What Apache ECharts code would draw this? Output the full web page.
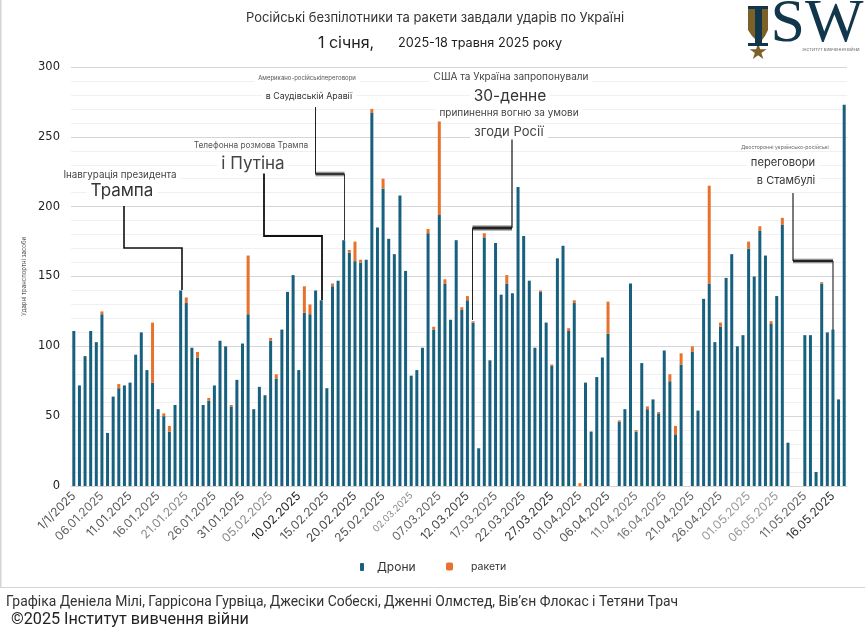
<!DOCTYPE html>
<html lang="uk">
<head>
<meta charset="utf-8">
<title>Російські безпілотники та ракети</title>
<script src="https://cdn.jsdelivr.net/npm/echarts@6/dist/echarts.min.js"></script>
<style>
  html, body { margin: 0; padding: 0; background: #fff; }
  #chart { width: 865px; height: 628px; }
</style>
</head>
<body>
<div id="chart"></div>
<script>
// 1. Дані
const categories = [
  "1/1/2025","02.01.2025","03.01.2025","04.01.2025","05.01.2025","06.01.2025","07.01.2025","08.01.2025","09.01.2025","10.01.2025",
  "11.01.2025","12.01.2025","13.01.2025","14.01.2025","15.01.2025","16.01.2025","17.01.2025","18.01.2025","19.01.2025","20.01.2025",
  "21.01.2025","22.01.2025","23.01.2025","24.01.2025","25.01.2025","26.01.2025","27.01.2025","28.01.2025","29.01.2025","30.01.2025",
  "31.01.2025","01.02.2025","02.02.2025","03.02.2025","04.02.2025","05.02.2025","06.02.2025","07.02.2025","08.02.2025","09.02.2025",
  "10.02.2025","11.02.2025","12.02.2025","13.02.2025","14.02.2025","15.02.2025","16.02.2025","17.02.2025","18.02.2025","19.02.2025",
  "20.02.2025","21.02.2025","22.02.2025","23.02.2025","24.02.2025","25.02.2025","26.02.2025","27.02.2025","28.02.2025","01.03.2025",
  "02.03.2025","03.03.2025","04.03.2025","05.03.2025","06.03.2025","07.03.2025","08.03.2025","09.03.2025","10.03.2025","11.03.2025",
  "12.03.2025","13.03.2025","14.03.2025","15.03.2025","16.03.2025","17.03.2025","18.03.2025","19.03.2025","20.03.2025","21.03.2025",
  "22.03.2025","23.03.2025","24.03.2025","25.03.2025","26.03.2025","27.03.2025","28.03.2025","29.03.2025","30.03.2025","31.03.2025",
  "01.04.2025","02.04.2025","03.04.2025","04.04.2025","05.04.2025","06.04.2025","07.04.2025","08.04.2025","09.04.2025","10.04.2025",
  "11.04.2025","12.04.2025","13.04.2025","14.04.2025","15.04.2025","16.04.2025","17.04.2025","18.04.2025","19.04.2025","20.04.2025",
  "21.04.2025","22.04.2025","23.04.2025","24.04.2025","25.04.2025","26.04.2025","27.04.2025","28.04.2025","29.04.2025","30.04.2025",
  "01.05.2025","02.05.2025","03.05.2025","04.05.2025","05.05.2025","06.05.2025","07.05.2025","08.05.2025","09.05.2025","10.05.2025",
  "11.05.2025","12.05.2025","13.05.2025","14.05.2025","15.05.2025","16.05.2025","17.05.2025","18.05.2025"
];
const drones = [
  111,72,93,111,103,123,38,64,70,72,
  74,94,110,83,74,55,50,39,58,140,
  131,99,92,58,61,72,104,100,57,76,
  102,123,55,71,65,104,77,112,139,151,
  83,124,123,140,133,70,143,147,176,167,
  161,160,162,267,185,213,177,166,208,154,
  79,83,99,181,112,194,145,119,176,126,
  133,117,27,178,90,174,137,145,138,214,
  179,147,99,139,117,86,163,172,111,131,
  0,74,39,78,92,109,0,46,55,145,
  39,88,55,62,52,97,75,37,87,0,
  96,54,134,145,103,114,149,166,100,108,
  170,150,183,165,116,136,187,31,0,0,
  108,108,10,145,110,112,62,273
];
const missiles = [
  0,0,0,0,0,2,0,0,3,0,
  0,0,0,0,43,0,2,4,0,0,
  4,0,4,0,2,0,0,0,1,0,
  0,42,0,0,0,2,3,0,0,0,
  0,19,7,0,0,0,2,0,0,2,
  14,2,0,3,0,7,0,0,0,0,
  0,0,0,3,2,67,3,0,0,2,
  3,1,0,3,0,0,0,6,0,0,
  0,0,0,1,0,1,0,0,2,2,
  2,0,0,0,0,23,0,1,0,0,
  1,0,2,0,1,0,5,6,8,0,
  4,0,0,70,0,3,0,0,0,0,
  5,0,3,0,2,0,5,0,0,0,
  0,0,0,1,0,0,0,0
];

// 2. Кольори
const DRONE_COLOR = "#17617f";
const MISSILE_COLOR = "#e8722c";
const LOGO_DARK = "#12364b";
const LOGO_GOLD = "#7d5f28";
const sansFont = "Inter, 'Noto Sans', sans-serif";
// кольори підписів осі X, по одному на кожен підпис
const tickColors = [
  "#555","#666","#555","#666","#888","#666","#555","#888","#222","#555",
  "#444","#555","#888","#666","#444","#666","#555","#333","#555","#555",
  "#777","#777","#666","#666","#999","#999","#666","#333"
];

// 3. Написи: [текст, центр x, центр y, розмір, колір]
const notes = [
  ["Інавгурація президента", 120, 175, 9.8, "#444"],
  ["Трампа", 122, 191, 17, "#333"],
  ["Телефонна розмова Трампа", 251, 146, 8.3, "#555"],
  ["і Путіна", 253, 164, 17, "#444"],
  ["Американо-російськіпереговори", 307, 78, 6, "#555"],
  ["в Саудівській Аравії", 309, 96, 8.8, "#333"],
  ["США та Україна запропонували", 511, 77, 10, "#444"],
  ["30-денне", 510, 96, 15.5, "#333"],
  ["припинення вогню за умови", 509, 113, 10, "#444"],
  ["згоди Росії", 509, 132, 13, "#444"],
  ["Двосторонні українсько-російські", 785, 147, 5.2, "#666"],
  ["переговори", 783, 163, 11.2, "#333"],
  ["в Стамбулі", 786, 181, 11, "#333"]
];
// Лінії-виноски: [точки, товщина, колір]
const leaders = [
  [[[124, 206], [124, 248], [182, 248], [182, 290]], 1.6, "#111"],
  [[[264, 172], [264, 236], [322, 236], [322, 300]], 1.8, "#111"],
  [[[315.5, 174], [344.5, 174]], 5, "#bbb"],
  [[[315.5, 107], [315.5, 174]], 1, "#222"],
  [[[315.5, 174], [344.5, 174]], 2.5, "#333"],
  [[[344.5, 174], [344.5, 240]], 1, "#333"],
  [[[472.5, 228], [512, 228]], 6, "#bbb"],
  [[[512, 138], [512, 228]], 1.2, "#111"],
  [[[472.5, 228], [512, 228]], 3, "#222"],
  [[[472.5, 228], [472.5, 320]], 1, "#222"],
  [[[793, 261], [833, 261]], 5, "#bbb"],
  [[[793, 193], [793, 261]], 1.2, "#222"],
  [[[793, 261], [833, 261]], 2.5, "#222"],
  [[[833, 261], [833, 330]], 1.2, "#333"]
];

// 4. Графічні елементи
function label(text, x, y, size, color, extra) {
  return {
    type: "text", x: x, y: y, z: 10,
    style: Object.assign({
      text: text, fontSize: size, fill: color, fontFamily: sansFont,
      textAlign: "center", textVerticalAlign: "middle"
    }, extra || {})
  };
}

function noteElements() {
  return notes.map(n => label(n[0], n[1], n[2], n[3], n[4], {
    backgroundColor: "#fff", padding: [1, 4]
  }));
}

function leaderElements() {
  return leaders.map(l => ({
    type: "polyline", z: 9,
    shape: { points: l[0] },
    style: { stroke: l[2], lineWidth: l[1], fill: null }
  }));
}

function logoElements() {
  return [
    { type: "polygon", z: 10, shape: { points: [[748, 9], [756, 9], [756, 40], [752, 36], [748, 30]] }, style: { fill: LOGO_GOLD } },
    { type: "polygon", z: 10, shape: { points: [[762, 9], [768, 9], [768, 30], [765, 36], [762, 40]] }, style: { fill: LOGO_GOLD } },
    { type: "rect", z: 11, shape: { x: 755, y: 7, width: 7, height: 38 }, style: { fill: LOGO_DARK } },
    { type: "rect", z: 11, shape: { x: 748, y: 6, width: 20, height: 3 }, style: { fill: LOGO_DARK } },
    { type: "rect", z: 11, shape: { x: 748, y: 43, width: 20, height: 3 }, style: { fill: LOGO_DARK } },
    label("★", 758, 53, 22, LOGO_GOLD, { fontFamily: "DejaVu Sans" }),
    label("SW", 817, 25, 62, LOGO_DARK, { fontFamily: "Liberation Serif" }),
    label("ІНСТИТУТ ВИВЧЕННЯ ВІЙНИ", 831, 50, 4, "#555")
  ];
}

const frameElements = [
  { type: "line", shape: { x1: 0.5, y1: 0, x2: 0.5, y2: 587 }, style: { stroke: "#d4d4d4", lineWidth: 2 } },
  { type: "line", shape: { x1: 0, y1: 587.5, x2: 865, y2: 587.5 }, style: { stroke: "#d4d4d4", lineWidth: 1 } }
];

const titleElements = [
  label("Російські безпілотники та ракети завдали ударів по Україні", 435, 18, 13, "#333"),
  label("1 січня,", 346, 43, 16, "#222"),
  label("2025-18 травня 2025 року", 480, 43, 12.7, "#222"),
  label("Графіка Деніела Мілі, Гаррісона Гурвіца, Джесіки Собескі, Дженні Олмстед, Вів’єн Флокас і Тетяни Трач", 6, 603, 13.9, "#333",
    { textAlign: "left", fontFamily: "Roboto, sans-serif" }),
  label("©2025 Інститут вивчення війни", 11, 620, 16.2, "#222", { textAlign: "left", fontFamily: "Roboto, sans-serif" })
];

// 5. Графік
const chart = echarts.init(document.getElementById("chart"), null, { renderer: "canvas" });

chart.setOption({
  backgroundColor: "#fff",
  animation: false,
  grid: { left: 71, top: 67, width: 776, height: 419, containLabel: false },
  legend: [
    {
      data: ["Дрони"], left: 355, top: 556, itemWidth: 4, itemHeight: 8,
      textStyle: { fontSize: 12, color: "#333", fontFamily: sansFont, padding: [0, 0, 0, 8] }
    },
    {
      data: ["ракети"], left: 441, top: 556, itemWidth: 7, itemHeight: 8,
      textStyle: { fontSize: 10.5, color: "#333", fontFamily: sansFont, padding: [0, 0, 0, 13] }
    }
  ],
  xAxis: {
    type: "category",
    data: categories,
    axisTick: { show: false },
    axisLine: { lineStyle: { color: "#d4d4d4" } },
    axisLabel: {
      interval: 4, rotate: 45, fontSize: 12, margin: 8,
      fontFamily: sansFont, hideOverlap: false,
      color: (value, index) => tickColors[index],
      formatter: value => value === "02.03.2025" ? "{small|" + value + "}" : value,
      rich: { small: { fontSize: 9.5, fontFamily: sansFont } }
    }
  },
  yAxis: {
    type: "value",
    min: 0, max: 300, interval: 50,
    name: "Ударні транспортні засоби",
    nameLocation: "middle", nameGap: 42, nameRotate: 90,
    nameTextStyle: { fontSize: 6, color: "#555", fontFamily: sansFont },
    axisLine: { show: false },
    axisTick: { show: false },
    axisLabel: { fontSize: 11.5, margin: 11, color: "#222", fontFamily: "DejaVu Sans, sans-serif", padding: [4, 0, 0, 0] },
    splitLine: { lineStyle: { color: "#d6d6d6", width: 1 } },
    minorTick: { show: false, splitNumber: 5 },
    minorSplitLine: { show: true, lineStyle: { color: "#f0f0f0", width: 1 } }
  },
  series: [
    { name: "Дрони", type: "bar", stack: "strikes", barWidth: 3, itemStyle: { color: DRONE_COLOR }, data: drones },
    { name: "ракети", type: "bar", stack: "strikes", barWidth: 3, itemStyle: { color: MISSILE_COLOR }, data: missiles }
  ],
  graphic: { elements: [].concat(frameElements, leaderElements(), noteElements(), logoElements(), titleElements) }
});
</script>
</body>
</html>
